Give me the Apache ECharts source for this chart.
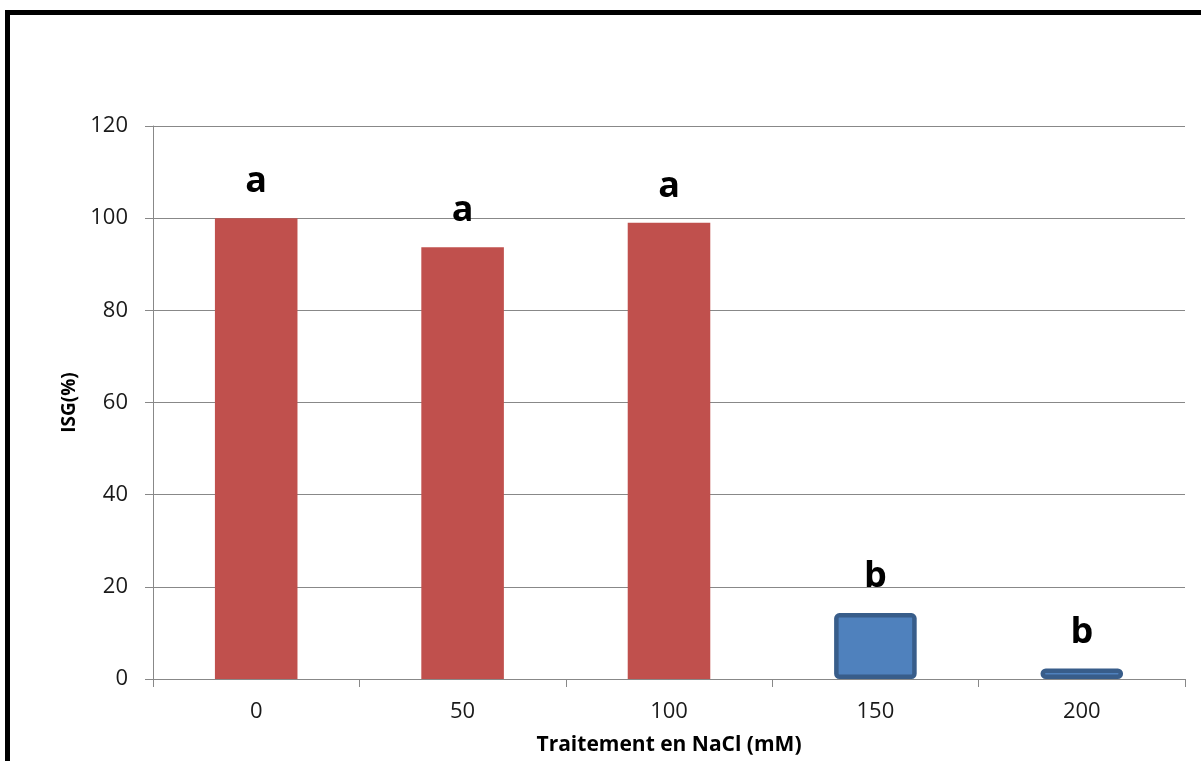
<!DOCTYPE html>
<html>
<head>
<meta charset="utf-8">
<script src="https://cdn.jsdelivr.net/npm/echarts@6/dist/echarts.min.js"></script>
<style>
  html, body { margin: 0; padding: 0; background: #fff; }
  #chart { width: 1201px; height: 761px; }
</style>
</head>
<body>
<div id="chart"></div>
<script>
// NaCl treatments (mM) and germination index ISG (%)
const categories = ['0', '50', '100', '150', '200'];
const isgValues = [100, 93.7, 99, 14.3, 2.3];
const groupLetters = ['a', 'a', 'a', 'b', 'b'];
const yTicks = { min: 0, max: 120, interval: 20 };

// group "a" bars in red, group "b" bars in blue with a darker outline
const redStyle = { color: '#C0504D' };
const blueStyle = { color: '#4F81BD', borderColor: '#385D8A', borderWidth: 4.5, borderRadius: 3 };

const chart = echarts.init(document.getElementById('chart'), null, { renderer: 'canvas' });

const data = isgValues.map((v, i) => ({
  value: v,
  itemStyle: groupLetters[i] === 'a' ? redStyle : blueStyle
}));

chart.setOption({
  animation: false,
  backgroundColor: '#ffffff',
  grid: { left: 153, right: 16, top: 126, bottom: 81, containLabel: false },
  graphic: [
    {
      type: 'rect',
      shape: { x: 7.5, y: 12.5, width: 1400, height: 1000 },
      style: { fill: 'none', stroke: '#000', lineWidth: 5 },
      silent: true
    }
  ],
  xAxis: {
    type: 'category',
    data: categories,
    name: 'Traitement en NaCl (mM)',
    nameLocation: 'middle',
    nameGap: 56,
    nameTextStyle: { fontFamily: 'Open Sans', fontWeight: 'bold', fontSize: 21, color: '#000' },
    axisLine: { lineStyle: { color: '#888', width: 1 } },
    axisTick: { show: true, alignWithLabel: false, length: 8, lineStyle: { color: '#888' } },
    axisLabel: { fontFamily: 'Open Sans', fontSize: 22, color: '#1a1a1a', margin: 22 },
    splitLine: { show: false }
  },
  yAxis: {
    type: 'value',
    min: yTicks.min,
    max: yTicks.max,
    interval: yTicks.interval,
    name: 'ISG(%)',
    nameLocation: 'middle',
    nameGap: 72,
    nameTextStyle: { fontFamily: 'Open Sans', fontWeight: 'bold', fontSize: 19, color: '#000' },
    axisLine: { show: true, lineStyle: { color: '#888', width: 1 } },
    axisTick: { show: true, length: 8, lineStyle: { color: '#888' } },
    axisLabel: { fontFamily: 'Open Sans', fontSize: 22, color: '#1a1a1a', margin: 25 },
    splitLine: { show: true, lineStyle: { color: '#888', width: 1 } }
  },
  series: [{
    type: 'bar',
    data: data,
    barWidth: '40%',
    label: {
      show: true,
      position: 'top',
      distance: 18,
      formatter: p => groupLetters[p.dataIndex],
      fontFamily: 'Open Sans',
      fontWeight: 'bold',
      fontSize: 36,
      color: '#000'
    }
  }]
});
</script>
</body>
</html>
